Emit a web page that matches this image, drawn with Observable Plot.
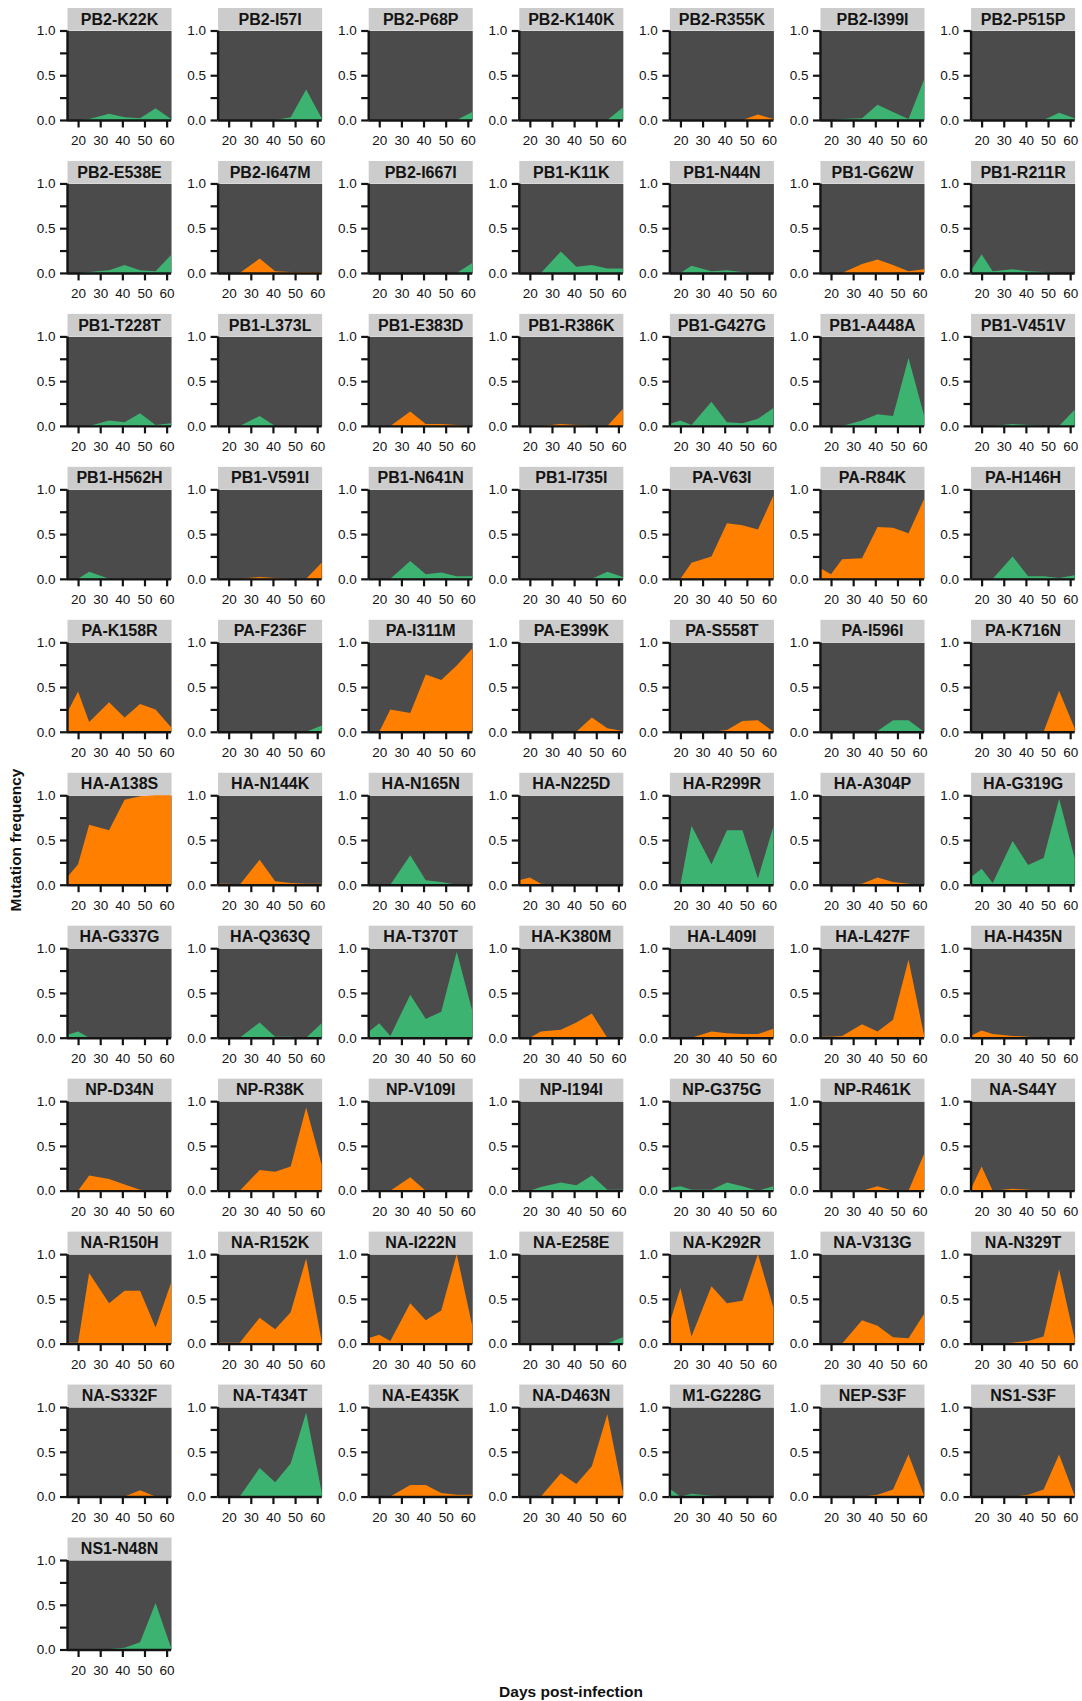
<!DOCTYPE html>
<html>
<head>
<meta charset="utf-8">
<script src="https://cdn.jsdelivr.net/npm/d3@7"></script>
<script src="https://cdn.jsdelivr.net/npm/@observablehq/plot@0.6"></script>
<style>
  body { margin: 0; background: #fff; }
  #wrap { position: relative; width: 1082px; height: 1701px; font-family: "Liberation Sans", Arial, Helvetica, sans-serif; color: #111; }
  #chart { position: absolute; left: 0; top: 0; }
  #ytitle { position: absolute; left: 16px; top: 840px; transform: translate(-50%, -50%) rotate(-90deg); font-weight: bold; font-size: 15.5px; white-space: nowrap; }
  #xtitle { position: absolute; left: 571px; top: 1692px; transform: translate(-50%, -50%); font-weight: bold; font-size: 15.5px; white-space: nowrap; }
</style>
</head>
<body>
<div id="wrap">
  <div id="chart"></div>
  <div id="ytitle">Mutation frequency</div>
  <div id="xtitle">Days post-infection</div>
</div>
<script>
// ---- data ----
const days = [15, 20, 25, 34, 41, 48, 55, 62];
const xTicks = [20, 30, 40, 50, 60];
const yTicks = [0, 0.25, 0.5, 0.75, 1];
const yLabelTicks = [0, 0.5, 1];
const typeDomain = ["nonsynonymous", "synonymous"];
const typeColors = ["#FF7F00", "#3CB371"];

const mutations = [
  "PB2-K22K", "PB2-I57I", "PB2-P68P", "PB2-K140K", "PB2-R355K", "PB2-I399I", "PB2-P515P",
  "PB2-E538E", "PB2-I647M", "PB2-I667I", "PB1-K11K", "PB1-N44N", "PB1-G62W", "PB1-R211R",
  "PB1-T228T", "PB1-L373L", "PB1-E383D", "PB1-R386K", "PB1-G427G", "PB1-A448A", "PB1-V451V",
  "PB1-H562H", "PB1-V591I", "PB1-N641N", "PB1-I735I", "PA-V63I", "PA-R84K", "PA-H146H",
  "PA-K158R", "PA-F236F", "PA-I311M", "PA-E399K", "PA-S558T", "PA-I596I", "PA-K716N",
  "HA-A138S", "HA-N144K", "HA-N165N", "HA-N225D", "HA-R299R", "HA-A304P", "HA-G319G",
  "HA-G337G", "HA-Q363Q", "HA-T370T", "HA-K380M", "HA-L409I", "HA-L427F", "HA-H435N",
  "NP-D34N", "NP-R38K", "NP-V109I", "NP-I194I", "NP-G375G", "NP-R461K", "NA-S44Y",
  "NA-R150H", "NA-R152K", "NA-I222N", "NA-E258E", "NA-K292R", "NA-V313G", "NA-N329T",
  "NA-S332F", "NA-T434T", "NA-E435K", "NA-D463N", "M1-G228G", "NEP-S3F", "NS1-S3F",
  "NS1-N48N"
];

const frequencies = [
  [0,0,0.01,0.07,0.03,0.02,0.13,0.01],
  [0,0,0,0,0,0.03,0.34,0.02],
  [0,0,0,0,0,0,0,0.09],
  [0,0,0,0,0,0,0,0.14],
  [0,0,0,0,0,0,0.06,0.01],
  [0,0,0.01,0.02,0.17,0.09,0.01,0.45],
  [0,0,0,0,0,0,0.08,0.02],

  [0,0,0.01,0.03,0.09,0.03,0.02,0.2],
  [0,0,0,0.16,0.02,0.01,0.01,0.01],
  [0,0,0,0,0,0,0,0.11],
  [0,0,0,0.24,0.07,0.09,0.05,0.05],
  [0,0,0.08,0.02,0.03,0.01,0,0],
  [0,0,0,0.1,0.15,0.09,0.02,0.04],
  [0.02,0.21,0.02,0.04,0.02,0.01,0,0],

  [0,0,0,0.06,0.04,0.14,0.01,0.03],
  [0,0,0,0.11,0,0,0,0],
  [0,0,0,0.16,0.02,0.02,0.01,0],
  [0,0,0,0.02,0.01,0,0,0.19],
  [0.02,0.06,0.01,0.27,0.04,0.03,0.08,0.2],
  [0,0,0,0.06,0.13,0.11,0.76,0.12],
  [0,0,0,0.02,0.01,0,0,0.18],

  [0,0,0.08,0,0,0,0,0],
  [0,0,0,0.02,0.01,0,0,0.18],
  [0,0,0,0.2,0.05,0.07,0.03,0.03],
  [0,0,0,0,0,0,0.08,0.02],
  [0,0,0.18,0.25,0.62,0.6,0.55,0.93],
  [0.12,0.05,0.22,0.23,0.58,0.57,0.51,0.89],
  [0,0,0,0.25,0.03,0.03,0.01,0.04],

  [0.21,0.45,0.11,0.33,0.16,0.31,0.25,0.05],
  [0,0,0,0,0,0,0,0.07],
  [0,0,0.25,0.21,0.64,0.58,0.74,0.93],
  [0,0,0,0,0,0.16,0.04,0.01],
  [0,0,0,0,0.02,0.12,0.13,0],
  [0,0,0,0,0.01,0.13,0.13,0],
  [0,0,0,0,0,0,0.46,0.04],

  [0.08,0.23,0.67,0.61,0.95,0.99,1,1],
  [0.01,0.01,0,0.28,0.04,0.02,0.01,0.01],
  [0,0,0,0.33,0.05,0.03,0,0],
  [0.05,0.08,0.01,0,0,0,0,0],
  [0,0,0.66,0.23,0.61,0.61,0.07,0.65],
  [0,0,0,0.01,0.08,0.03,0.01,0],
  [0.08,0.18,0.02,0.49,0.22,0.3,0.96,0.3],

  [0.03,0.07,0,0,0,0,0,0],
  [0,0,0,0.17,0.01,0.01,0,0.16],
  [0.06,0.16,0.02,0.48,0.21,0.29,0.96,0.3],
  [0,0,0.07,0.09,0.17,0.27,0,0.01],
  [0,0,0,0.07,0.05,0.04,0.04,0.1],
  [0.01,0.01,0.02,0.15,0.07,0.2,0.87,0.03],
  [0.02,0.08,0.04,0.02,0.01,0,0,0],

  [0,0,0.17,0.13,0.07,0.01,0,0],
  [0,0,0,0.23,0.21,0.27,0.93,0.29],
  [0,0,0,0.15,0,0,0,0],
  [0,0,0.04,0.09,0.06,0.17,0.01,0.01],
  [0.03,0.05,0.01,0.01,0.09,0.05,0,0.05],
  [0,0,0,0,0.05,0,0,0.41],
  [0.01,0.27,0,0.02,0.01,0,0,0],

  [0.01,0.01,0.79,0.45,0.59,0.59,0.18,0.68],
  [0.01,0.01,0.01,0.29,0.16,0.35,0.95,0.03],
  [0.06,0.1,0.03,0.45,0.26,0.37,1,0.2],
  [0,0,0,0,0,0,0,0.07],
  [0.22,0.62,0.08,0.64,0.45,0.48,1,0.4],
  [0,0,0,0.26,0.2,0.07,0.06,0.33],
  [0,0,0,0.01,0.03,0.08,0.83,0.05],

  [0,0,0,0,0,0.07,0,0],
  [0,0,0,0.32,0.16,0.37,0.94,0.05],
  [0,0,0,0.13,0.13,0.04,0.02,0.02],
  [0,0,0,0.26,0.14,0.34,0.92,0.05],
  [0.09,0,0.03,0.01,0,0,0,0],
  [0,0,0,0,0.02,0.08,0.47,0.01],
  [0,0,0,0,0.02,0.08,0.47,0.01],

  [0,0,0,0.005,0.02,0.08,0.52,0.02]
];

// ---- derived tables ----
const nCols = 7;
const isSynonymous = (m) => { const s = m.split("-")[1]; return s[0] === s[s.length - 1]; };
const panels = mutations.map((m, i) => ({
  name: m, col: i % nCols, row: Math.floor(i / nCols),
  type: isSynonymous(m) ? "synonymous" : "nonsynonymous"
}));
const table = panels.flatMap((p, i) => days.map((d, j) => ({...p, day: d, freq: frequencies[i][j]})));

// ---- layout ----
const W = 1082, H = 1701;
const mL = 67, mR = 7.4, mT = 30.5, mB = 51.5;
const nRows = Math.ceil(mutations.length / nCols);
const fyPad = 0.415;
const fyStep = (H - mT - mB) / (nRows - fyPad);
const fyBand = fyStep * (1 - fyPad);
const ink = "#141414";

const chart = Plot.plot({
  width: W, height: H,
  marginLeft: mL, marginRight: mR, marginTop: mT, marginBottom: mB,
  style: {fontFamily: "'Liberation Sans', Arial, Helvetica, sans-serif", fontSize: "13.5px", background: "white", color: ink},
  fx: {domain: d3.range(nCols), paddingInner: 0.309, paddingOuter: 0, round: false, axis: null},
  fy: {domain: d3.range(nRows), paddingInner: fyPad, paddingOuter: 0, round: false, axis: null},
  x: {domain: [15, 62]},
  y: {domain: [0, 1]},
  color: {domain: typeDomain, range: typeColors},
  marks: [
    Plot.frame({fill: "#4B4B4B", stroke: null}),
    Plot.frame({fill: "#CCCCCC", stroke: null, insetTop: -23, insetBottom: fyBand + 0.3}),
    Plot.areaY(table, {x: "day", y1: 0, y2: "freq", fx: "col", fy: "row", z: "name", fill: "type", curve: "linear"}),
    Plot.ruleX([15], {stroke: ink, strokeWidth: 2.4}),
    Plot.ruleY([0], {stroke: ink, strokeWidth: 2.4}),
    Plot.axisY({
      facetAnchor: null, ticks: yTicks,
      tickFormat: (d) => yLabelTicks.includes(d) ? d3.format(".1f")(d) : "",
      tickSize: 7, tickPadding: 5, strokeWidth: 2.2, fontSize: 13.5, label: null, color: ink
    }),
    Plot.axisX({
      facetAnchor: null, ticks: xTicks, tickFormat: (d) => String(d),
      tickSize: 7.5, tickPadding: 7.5, strokeWidth: 2.2, fontSize: 13.5, label: null, color: ink
    }),
    Plot.text(panels, {
      fx: "col", fy: "row", text: "name", frameAnchor: "top", lineAnchor: "middle",
      dy: -11.5, fontWeight: "bold", fontSize: 16, fill: ink
    })
  ]
});
document.getElementById("chart").appendChild(chart);
</script>
</body>
</html>
